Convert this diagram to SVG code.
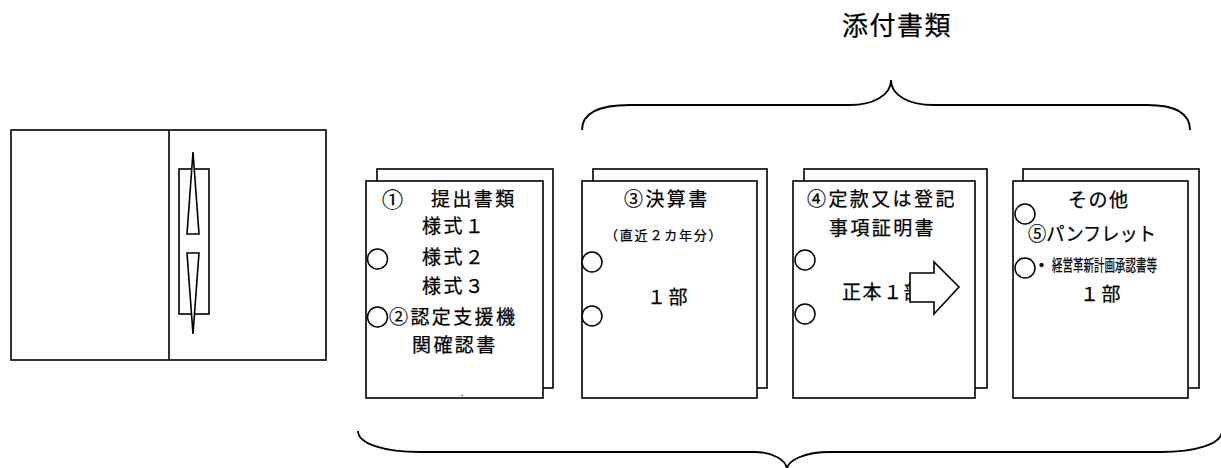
<svg xmlns="http://www.w3.org/2000/svg" width="1221" height="468" viewBox="0 0 1221 468">
<style>
.ln{fill:#fff;stroke:#000;stroke-width:1.6}
.hole{fill:#fff;stroke:#000;stroke-width:1.5}
.br{fill:none;stroke:#000;stroke-width:1.8}
text{font-family:"Noto Sans CJK JP","Noto Sans",sans-serif;fill:#000;stroke:#000;stroke-width:0.25}
.t{font-size:19px;letter-spacing:2.4px}
.s{font-size:13px;letter-spacing:1.8px}
</style>
<rect width="1221" height="468" fill="#fff"/>
<g id="title"><text x="842" y="35" style="font-size:26px;letter-spacing:1.5px">添付書類</text></g>
<g id="binder">
<rect class="ln" x="11" y="130" width="315" height="230"/>
<line x1="169" y1="130" x2="169" y2="360" stroke="#000" stroke-width="1.6"/>
<rect class="ln" x="179" y="169" width="30" height="145"/>
<polygon class="ln" points="193,152 199,234 187,234"/>
<polygon class="ln" points="187,253 199,253 193,334"/>
</g>
<g id="page1">
<rect class="ln" x="377" y="169" width="176" height="219"/>
<rect class="ln" x="366" y="181" width="177" height="217"/>
<circle class="hole" cx="377.5" cy="259" r="10"/>
<circle class="hole" cx="377.5" cy="317" r="10"/>
<text x="382" y="207" style="font-size:21px">①</text>
<text class="t" x="431" y="206">提出書類</text>
<text class="t" x="422" y="233">様式１</text>
<text class="t" x="422" y="264">様式２</text>
<text class="t" x="422" y="293">様式３</text>
<text class="t" x="389" y="324">②認定支援機</text>
<text class="t" x="412" y="352">関確認書</text>
<text x="461" y="396" style="font-size:8px">.</text>
</g>
<g id="page2">
<rect class="ln" x="593" y="169" width="174" height="219"/>
<rect class="ln" x="582" y="181" width="175" height="217"/>
<circle class="hole" cx="592" cy="262" r="10"/>
<circle class="hole" cx="592" cy="316" r="10"/>
<text class="t" x="624" y="206">③決算書</text>
<text class="s" x="605" y="240">（直近２カ年分）</text>
<text class="t" x="647" y="304">１部</text>
</g>
<g id="page3">
<rect class="ln" x="804" y="169" width="183" height="219"/>
<rect class="ln" x="793" y="181" width="182" height="217"/>
<circle class="hole" cx="805" cy="260" r="10"/>
<circle class="hole" cx="805" cy="314" r="10"/>
<text class="t" x="807" y="206">④定款又は登記</text>
<text class="t" x="829" y="235">事項証明書</text>
<text x="842" y="299" style="font-size:19px;letter-spacing:1.6px">正本１部</text>
</g>
<g id="page4">
<rect class="ln" x="1023" y="169" width="176" height="219"/>
<rect class="ln" x="1013" y="181" width="175" height="217"/>
<circle class="hole" cx="1025" cy="214" r="10"/>
<circle class="hole" cx="1025" cy="268" r="10"/>
<text x="1068" y="207" style="font-size:19px;letter-spacing:1.5px">その他</text>
<text x="1028" y="241" style="font-size:19px" textLength="128" lengthAdjust="spacingAndGlyphs">⑤パンフレット</text>
<text x="1032" y="273" style="font-size:19px">・</text>
<text x="1052" y="271" style="font-size:16px" textLength="105" lengthAdjust="spacingAndGlyphs">経営革新計画承認書等</text>
<text class="t" x="1080" y="301">１部</text>
</g>
<g id="connectors">
<polygon class="ln" points="910,273 934,273 934,262 959,287 934,314 934,302 910,302"/>
<path class="br" d="M582,130 C582,114 598,105 630,105 L850,105 C872,105 891,96 891,80 C891,96 910,105 933,105 L1147,105 C1177,105 1190,114 1190,130"/>
<path class="br" d="M358,431 C358,444 385,452 420,452 L755,452 C772,452 787,460 787,470 C787,460 805,452 830,452 L1160,452 C1196,452 1222,444 1222,431"/>
</g>
</svg>
